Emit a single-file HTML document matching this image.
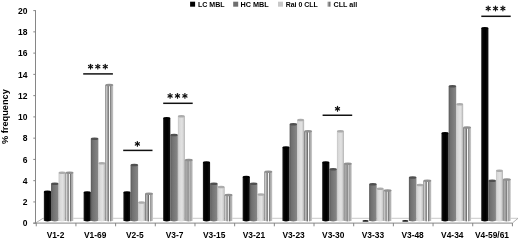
<!DOCTYPE html>
<html><head><meta charset="utf-8"><style>
html,body{margin:0;padding:0;background:#fff;width:520px;height:240px;overflow:hidden}
svg{display:block;will-change:transform}
text{font-family:"Liberation Sans",sans-serif;font-weight:bold;fill:#000}
body{-webkit-font-smoothing:antialiased}
</style></head><body>
<svg width="520" height="240" viewBox="0 0 520 240">
<defs>
<linearGradient id="gK" x1="0" x2="1" y1="0" y2="0">
 <stop offset="0" stop-color="#2a2a2a"/><stop offset="0.2" stop-color="#060606"/><stop offset="0.6" stop-color="#000"/><stop offset="1" stop-color="#141414"/>
</linearGradient>
<linearGradient id="gD" x1="0" x2="1" y1="0" y2="0">
 <stop offset="0" stop-color="#5a5a5a"/><stop offset="0.25" stop-color="#707070"/><stop offset="0.7" stop-color="#7e7e7e"/><stop offset="1" stop-color="#888888"/>
</linearGradient>
<linearGradient id="gL" x1="0" x2="1" y1="0" y2="0">
 <stop offset="0" stop-color="#c4c4c4"/><stop offset="0.2" stop-color="#d8d8d8"/><stop offset="0.6" stop-color="#e2e2e2"/><stop offset="0.85" stop-color="#cccccc"/><stop offset="1" stop-color="#a8a8a8"/>
</linearGradient>
<linearGradient id="gS" x1="0" x2="1" y1="0" y2="0">
 <stop offset="0" stop-color="#6e6e6e"/><stop offset="0.06" stop-color="#808080"/>
 <stop offset="0.12" stop-color="#d4d4d4"/><stop offset="0.2" stop-color="#a8a8a8"/>
 <stop offset="0.37" stop-color="#9a9a9a"/><stop offset="0.44" stop-color="#666"/>
 <stop offset="0.5" stop-color="#f6f6f6"/><stop offset="0.56" stop-color="#f6f6f6"/>
 <stop offset="0.62" stop-color="#707070"/><stop offset="0.7" stop-color="#a4a4a4"/>
 <stop offset="0.88" stop-color="#b4b4b4"/><stop offset="1" stop-color="#d8d8d8"/>
</linearGradient>
</defs>

<polygon points="35.5,223 43,218.3 518,218.3 512.4,223" fill="#fff" stroke="none"/>
<line x1="43" y1="218.3" x2="518" y2="218.3" stroke="#c4c4c4" stroke-width="0.9"/>
<line x1="35.5" y1="223" x2="43" y2="218.3" stroke="#a0a0a0" stroke-width="0.8"/>
<line x1="512.4" y1="223" x2="518" y2="218.3" stroke="#a0a0a0" stroke-width="0.8"/>
<line x1="35.5" y1="10.2" x2="35.5" y2="223.5" stroke="#868686" stroke-width="1"/>
<line x1="33.3" y1="223.20" x2="35.5" y2="223.20" stroke="#868686" stroke-width="1"/>
<text x="27.4" y="226.40" font-size="8.5" text-anchor="end">0</text>
<line x1="33.3" y1="201.94" x2="35.5" y2="201.94" stroke="#868686" stroke-width="1"/>
<text x="27.4" y="205.14" font-size="8.5" text-anchor="end">2</text>
<line x1="33.3" y1="180.68" x2="35.5" y2="180.68" stroke="#868686" stroke-width="1"/>
<text x="27.4" y="183.88" font-size="8.5" text-anchor="end">4</text>
<line x1="33.3" y1="159.42" x2="35.5" y2="159.42" stroke="#868686" stroke-width="1"/>
<text x="27.4" y="162.62" font-size="8.5" text-anchor="end">6</text>
<line x1="33.3" y1="138.16" x2="35.5" y2="138.16" stroke="#868686" stroke-width="1"/>
<text x="27.4" y="141.36" font-size="8.5" text-anchor="end">8</text>
<line x1="33.3" y1="116.90" x2="35.5" y2="116.90" stroke="#868686" stroke-width="1"/>
<text x="27.4" y="120.10" font-size="8.5" text-anchor="end">10</text>
<line x1="33.3" y1="95.64" x2="35.5" y2="95.64" stroke="#868686" stroke-width="1"/>
<text x="27.4" y="98.84" font-size="8.5" text-anchor="end">12</text>
<line x1="33.3" y1="74.38" x2="35.5" y2="74.38" stroke="#868686" stroke-width="1"/>
<text x="27.4" y="77.58" font-size="8.5" text-anchor="end">14</text>
<line x1="33.3" y1="53.12" x2="35.5" y2="53.12" stroke="#868686" stroke-width="1"/>
<text x="27.4" y="56.32" font-size="8.5" text-anchor="end">16</text>
<line x1="33.3" y1="31.86" x2="35.5" y2="31.86" stroke="#868686" stroke-width="1"/>
<text x="27.4" y="35.06" font-size="8.5" text-anchor="end">18</text>
<line x1="33.3" y1="10.60" x2="35.5" y2="10.60" stroke="#868686" stroke-width="1"/>
<text x="27.4" y="13.80" font-size="8.5" text-anchor="end">20</text>
<line x1="33.3" y1="223.1" x2="512.4" y2="223.1" stroke="#868686" stroke-width="1"/>
<line x1="36.25" y1="223" x2="36.25" y2="226.3" stroke="#868686" stroke-width="1"/>
<line x1="75.93" y1="223" x2="75.93" y2="226.3" stroke="#868686" stroke-width="1"/>
<line x1="115.61" y1="223" x2="115.61" y2="226.3" stroke="#868686" stroke-width="1"/>
<line x1="155.29" y1="223" x2="155.29" y2="226.3" stroke="#868686" stroke-width="1"/>
<line x1="194.97" y1="223" x2="194.97" y2="226.3" stroke="#868686" stroke-width="1"/>
<line x1="234.65" y1="223" x2="234.65" y2="226.3" stroke="#868686" stroke-width="1"/>
<line x1="274.33" y1="223" x2="274.33" y2="226.3" stroke="#868686" stroke-width="1"/>
<line x1="314.01" y1="223" x2="314.01" y2="226.3" stroke="#868686" stroke-width="1"/>
<line x1="353.69" y1="223" x2="353.69" y2="226.3" stroke="#868686" stroke-width="1"/>
<line x1="393.37" y1="223" x2="393.37" y2="226.3" stroke="#868686" stroke-width="1"/>
<line x1="433.05" y1="223" x2="433.05" y2="226.3" stroke="#868686" stroke-width="1"/>
<line x1="472.73" y1="223" x2="472.73" y2="226.3" stroke="#868686" stroke-width="1"/>
<line x1="512.41" y1="223" x2="512.41" y2="226.3" stroke="#868686" stroke-width="1"/>
<rect x="43.85" y="191.90" width="7.20" height="28.70" fill="url(#gK)"/>
<ellipse cx="47.45" cy="220.60" rx="3.60" ry="0.8" fill="url(#gK)"/>
<ellipse cx="47.45" cy="191.90" rx="3.60" ry="1.3" fill="#000"/>
<rect x="51.05" y="183.80" width="7.55" height="36.80" fill="url(#gD)"/>
<ellipse cx="54.83" cy="220.60" rx="3.77" ry="0.8" fill="url(#gD)"/>
<ellipse cx="54.83" cy="183.80" rx="3.77" ry="1.3" fill="#505050"/>
<rect x="58.60" y="172.80" width="6.95" height="47.80" fill="url(#gL)"/>
<ellipse cx="62.08" cy="220.60" rx="3.47" ry="0.8" fill="url(#gL)"/>
<ellipse cx="62.08" cy="172.80" rx="3.47" ry="1.3" fill="#acacac"/>
<rect x="65.55" y="172.80" width="7.95" height="47.80" fill="url(#gS)"/>
<ellipse cx="69.52" cy="220.60" rx="3.97" ry="0.8" fill="url(#gS)"/>
<ellipse cx="69.52" cy="172.80" rx="3.97" ry="1.3" fill="#909090"/>
<rect x="83.61" y="192.55" width="7.20" height="28.05" fill="url(#gK)"/>
<ellipse cx="87.21" cy="220.60" rx="3.60" ry="0.8" fill="url(#gK)"/>
<ellipse cx="87.21" cy="192.55" rx="3.60" ry="1.3" fill="#000"/>
<rect x="90.81" y="138.80" width="7.55" height="81.80" fill="url(#gD)"/>
<ellipse cx="94.59" cy="220.60" rx="3.77" ry="0.8" fill="url(#gD)"/>
<ellipse cx="94.59" cy="138.80" rx="3.77" ry="1.3" fill="#505050"/>
<rect x="98.36" y="163.30" width="6.95" height="57.30" fill="url(#gL)"/>
<ellipse cx="101.83" cy="220.60" rx="3.47" ry="0.8" fill="url(#gL)"/>
<ellipse cx="101.83" cy="163.30" rx="3.47" ry="1.3" fill="#acacac"/>
<rect x="105.31" y="85.05" width="7.95" height="135.55" fill="url(#gS)"/>
<ellipse cx="109.28" cy="220.60" rx="3.97" ry="0.8" fill="url(#gS)"/>
<ellipse cx="109.28" cy="85.05" rx="3.97" ry="1.3" fill="#909090"/>
<rect x="123.37" y="192.55" width="7.20" height="28.05" fill="url(#gK)"/>
<ellipse cx="126.97" cy="220.60" rx="3.60" ry="0.8" fill="url(#gK)"/>
<ellipse cx="126.97" cy="192.55" rx="3.60" ry="1.3" fill="#000"/>
<rect x="130.57" y="165.05" width="7.55" height="55.55" fill="url(#gD)"/>
<ellipse cx="134.34" cy="220.60" rx="3.77" ry="0.8" fill="url(#gD)"/>
<ellipse cx="134.34" cy="165.05" rx="3.77" ry="1.3" fill="#505050"/>
<rect x="138.12" y="202.55" width="6.95" height="18.05" fill="url(#gL)"/>
<ellipse cx="141.59" cy="220.60" rx="3.47" ry="0.8" fill="url(#gL)"/>
<ellipse cx="141.59" cy="202.55" rx="3.47" ry="1.3" fill="#acacac"/>
<rect x="145.07" y="193.80" width="7.95" height="26.80" fill="url(#gS)"/>
<ellipse cx="149.04" cy="220.60" rx="3.97" ry="0.8" fill="url(#gS)"/>
<ellipse cx="149.04" cy="193.80" rx="3.97" ry="1.3" fill="#909090"/>
<rect x="163.13" y="118.30" width="7.20" height="102.30" fill="url(#gK)"/>
<ellipse cx="166.73" cy="220.60" rx="3.60" ry="0.8" fill="url(#gK)"/>
<ellipse cx="166.73" cy="118.30" rx="3.60" ry="1.3" fill="#000"/>
<rect x="170.33" y="135.05" width="7.55" height="85.55" fill="url(#gD)"/>
<ellipse cx="174.10" cy="220.60" rx="3.77" ry="0.8" fill="url(#gD)"/>
<ellipse cx="174.10" cy="135.05" rx="3.77" ry="1.3" fill="#505050"/>
<rect x="177.88" y="116.30" width="6.95" height="104.30" fill="url(#gL)"/>
<ellipse cx="181.35" cy="220.60" rx="3.47" ry="0.8" fill="url(#gL)"/>
<ellipse cx="181.35" cy="116.30" rx="3.47" ry="1.3" fill="#acacac"/>
<rect x="184.83" y="160.05" width="7.95" height="60.55" fill="url(#gS)"/>
<ellipse cx="188.80" cy="220.60" rx="3.97" ry="0.8" fill="url(#gS)"/>
<ellipse cx="188.80" cy="160.05" rx="3.97" ry="1.3" fill="#909090"/>
<rect x="202.89" y="162.55" width="7.20" height="58.05" fill="url(#gK)"/>
<ellipse cx="206.49" cy="220.60" rx="3.60" ry="0.8" fill="url(#gK)"/>
<ellipse cx="206.49" cy="162.55" rx="3.60" ry="1.3" fill="#000"/>
<rect x="210.09" y="183.80" width="7.55" height="36.80" fill="url(#gD)"/>
<ellipse cx="213.86" cy="220.60" rx="3.77" ry="0.8" fill="url(#gD)"/>
<ellipse cx="213.86" cy="183.80" rx="3.77" ry="1.3" fill="#505050"/>
<rect x="217.64" y="187.05" width="6.95" height="33.55" fill="url(#gL)"/>
<ellipse cx="221.11" cy="220.60" rx="3.47" ry="0.8" fill="url(#gL)"/>
<ellipse cx="221.11" cy="187.05" rx="3.47" ry="1.3" fill="#acacac"/>
<rect x="224.59" y="195.05" width="7.95" height="25.55" fill="url(#gS)"/>
<ellipse cx="228.56" cy="220.60" rx="3.97" ry="0.8" fill="url(#gS)"/>
<ellipse cx="228.56" cy="195.05" rx="3.97" ry="1.3" fill="#909090"/>
<rect x="242.65" y="177.05" width="7.20" height="43.55" fill="url(#gK)"/>
<ellipse cx="246.25" cy="220.60" rx="3.60" ry="0.8" fill="url(#gK)"/>
<ellipse cx="246.25" cy="177.05" rx="3.60" ry="1.3" fill="#000"/>
<rect x="249.85" y="183.80" width="7.55" height="36.80" fill="url(#gD)"/>
<ellipse cx="253.62" cy="220.60" rx="3.77" ry="0.8" fill="url(#gD)"/>
<ellipse cx="253.62" cy="183.80" rx="3.77" ry="1.3" fill="#505050"/>
<rect x="257.40" y="194.55" width="6.95" height="26.05" fill="url(#gL)"/>
<ellipse cx="260.88" cy="220.60" rx="3.47" ry="0.8" fill="url(#gL)"/>
<ellipse cx="260.88" cy="194.55" rx="3.47" ry="1.3" fill="#acacac"/>
<rect x="264.35" y="171.80" width="7.95" height="48.80" fill="url(#gS)"/>
<ellipse cx="268.32" cy="220.60" rx="3.97" ry="0.8" fill="url(#gS)"/>
<ellipse cx="268.32" cy="171.80" rx="3.97" ry="1.3" fill="#909090"/>
<rect x="282.41" y="147.55" width="7.20" height="73.05" fill="url(#gK)"/>
<ellipse cx="286.01" cy="220.60" rx="3.60" ry="0.8" fill="url(#gK)"/>
<ellipse cx="286.01" cy="147.55" rx="3.60" ry="1.3" fill="#000"/>
<rect x="289.61" y="124.30" width="7.55" height="96.30" fill="url(#gD)"/>
<ellipse cx="293.38" cy="220.60" rx="3.77" ry="0.8" fill="url(#gD)"/>
<ellipse cx="293.38" cy="124.30" rx="3.77" ry="1.3" fill="#505050"/>
<rect x="297.16" y="120.05" width="6.95" height="100.55" fill="url(#gL)"/>
<ellipse cx="300.64" cy="220.60" rx="3.47" ry="0.8" fill="url(#gL)"/>
<ellipse cx="300.64" cy="120.05" rx="3.47" ry="1.3" fill="#acacac"/>
<rect x="304.11" y="131.30" width="7.95" height="89.30" fill="url(#gS)"/>
<ellipse cx="308.09" cy="220.60" rx="3.97" ry="0.8" fill="url(#gS)"/>
<ellipse cx="308.09" cy="131.30" rx="3.97" ry="1.3" fill="#909090"/>
<rect x="322.17" y="162.55" width="7.20" height="58.05" fill="url(#gK)"/>
<ellipse cx="325.77" cy="220.60" rx="3.60" ry="0.8" fill="url(#gK)"/>
<ellipse cx="325.77" cy="162.55" rx="3.60" ry="1.3" fill="#000"/>
<rect x="329.37" y="169.30" width="7.55" height="51.30" fill="url(#gD)"/>
<ellipse cx="333.14" cy="220.60" rx="3.77" ry="0.8" fill="url(#gD)"/>
<ellipse cx="333.14" cy="169.30" rx="3.77" ry="1.3" fill="#505050"/>
<rect x="336.92" y="131.30" width="6.95" height="89.30" fill="url(#gL)"/>
<ellipse cx="340.40" cy="220.60" rx="3.47" ry="0.8" fill="url(#gL)"/>
<ellipse cx="340.40" cy="131.30" rx="3.47" ry="1.3" fill="#acacac"/>
<rect x="343.87" y="163.80" width="7.95" height="56.80" fill="url(#gS)"/>
<ellipse cx="347.85" cy="220.60" rx="3.97" ry="0.8" fill="url(#gS)"/>
<ellipse cx="347.85" cy="163.80" rx="3.97" ry="1.3" fill="#909090"/>
<ellipse cx="365.53" cy="220.90" rx="3.20" ry="0.9" fill="#1a1a1a"/>
<rect x="369.13" y="184.30" width="7.55" height="36.30" fill="url(#gD)"/>
<ellipse cx="372.90" cy="220.60" rx="3.77" ry="0.8" fill="url(#gD)"/>
<ellipse cx="372.90" cy="184.30" rx="3.77" ry="1.3" fill="#505050"/>
<rect x="376.68" y="188.80" width="6.95" height="31.80" fill="url(#gL)"/>
<ellipse cx="380.16" cy="220.60" rx="3.47" ry="0.8" fill="url(#gL)"/>
<ellipse cx="380.16" cy="188.80" rx="3.47" ry="1.3" fill="#acacac"/>
<rect x="383.63" y="190.55" width="7.95" height="30.05" fill="url(#gS)"/>
<ellipse cx="387.61" cy="220.60" rx="3.97" ry="0.8" fill="url(#gS)"/>
<ellipse cx="387.61" cy="190.55" rx="3.97" ry="1.3" fill="#909090"/>
<ellipse cx="405.29" cy="220.90" rx="3.20" ry="0.9" fill="#1a1a1a"/>
<rect x="408.89" y="177.55" width="7.55" height="43.05" fill="url(#gD)"/>
<ellipse cx="412.66" cy="220.60" rx="3.77" ry="0.8" fill="url(#gD)"/>
<ellipse cx="412.66" cy="177.55" rx="3.77" ry="1.3" fill="#505050"/>
<rect x="416.44" y="185.05" width="6.95" height="35.55" fill="url(#gL)"/>
<ellipse cx="419.92" cy="220.60" rx="3.47" ry="0.8" fill="url(#gL)"/>
<ellipse cx="419.92" cy="185.05" rx="3.47" ry="1.3" fill="#acacac"/>
<rect x="423.39" y="180.80" width="7.95" height="39.80" fill="url(#gS)"/>
<ellipse cx="427.37" cy="220.60" rx="3.97" ry="0.8" fill="url(#gS)"/>
<ellipse cx="427.37" cy="180.80" rx="3.97" ry="1.3" fill="#909090"/>
<rect x="441.45" y="133.30" width="7.20" height="87.30" fill="url(#gK)"/>
<ellipse cx="445.05" cy="220.60" rx="3.60" ry="0.8" fill="url(#gK)"/>
<ellipse cx="445.05" cy="133.30" rx="3.60" ry="1.3" fill="#000"/>
<rect x="448.65" y="86.30" width="7.55" height="134.30" fill="url(#gD)"/>
<ellipse cx="452.42" cy="220.60" rx="3.77" ry="0.8" fill="url(#gD)"/>
<ellipse cx="452.42" cy="86.30" rx="3.77" ry="1.3" fill="#505050"/>
<rect x="456.20" y="104.30" width="6.95" height="116.30" fill="url(#gL)"/>
<ellipse cx="459.68" cy="220.60" rx="3.47" ry="0.8" fill="url(#gL)"/>
<ellipse cx="459.68" cy="104.30" rx="3.47" ry="1.3" fill="#acacac"/>
<rect x="463.15" y="127.55" width="7.95" height="93.05" fill="url(#gS)"/>
<ellipse cx="467.12" cy="220.60" rx="3.97" ry="0.8" fill="url(#gS)"/>
<ellipse cx="467.12" cy="127.55" rx="3.97" ry="1.3" fill="#909090"/>
<rect x="481.21" y="28.30" width="7.20" height="192.30" fill="url(#gK)"/>
<ellipse cx="484.81" cy="220.60" rx="3.60" ry="0.8" fill="url(#gK)"/>
<ellipse cx="484.81" cy="28.30" rx="3.60" ry="1.3" fill="#000"/>
<rect x="488.41" y="180.80" width="7.55" height="39.80" fill="url(#gD)"/>
<ellipse cx="492.18" cy="220.60" rx="3.77" ry="0.8" fill="url(#gD)"/>
<ellipse cx="492.18" cy="180.80" rx="3.77" ry="1.3" fill="#505050"/>
<rect x="495.96" y="170.80" width="6.95" height="49.80" fill="url(#gL)"/>
<ellipse cx="499.44" cy="220.60" rx="3.47" ry="0.8" fill="url(#gL)"/>
<ellipse cx="499.44" cy="170.80" rx="3.47" ry="1.3" fill="#acacac"/>
<rect x="502.91" y="179.55" width="7.95" height="41.05" fill="url(#gS)"/>
<ellipse cx="506.88" cy="220.60" rx="3.97" ry="0.8" fill="url(#gS)"/>
<ellipse cx="506.88" cy="179.55" rx="3.97" ry="1.3" fill="#909090"/>
<text x="55.49" y="238" font-size="8.4" text-anchor="middle">V1-2</text>
<text x="95.17" y="238" font-size="8.4" text-anchor="middle">V1-69</text>
<text x="134.85" y="238" font-size="8.4" text-anchor="middle">V2-5</text>
<text x="174.53" y="238" font-size="8.4" text-anchor="middle">V3-7</text>
<text x="214.21" y="238" font-size="8.4" text-anchor="middle">V3-15</text>
<text x="253.89" y="238" font-size="8.4" text-anchor="middle">V3-21</text>
<text x="293.57" y="238" font-size="8.4" text-anchor="middle">V3-23</text>
<text x="333.25" y="238" font-size="8.4" text-anchor="middle">V3-30</text>
<text x="372.93" y="238" font-size="8.4" text-anchor="middle">V3-33</text>
<text x="412.61" y="238" font-size="8.4" text-anchor="middle">V3-48</text>
<text x="452.29" y="238" font-size="8.4" text-anchor="middle">V4-34</text>
<text x="491.97" y="238" font-size="8.4" text-anchor="middle">V4-59/61</text>
<text transform="translate(8.4,144.0) rotate(-90)" font-size="9.2" textLength="54.8" lengthAdjust="spacingAndGlyphs">% frequency</text>
<rect x="190.1" y="1.7" width="5" height="5" fill="#000"/>
<text x="197.9" y="6.6" font-size="7.6" textLength="26.7" lengthAdjust="spacingAndGlyphs">LC MBL</text>
<rect x="233.2" y="1.7" width="5" height="5" fill="#6e6e6e"/>
<text x="240.5" y="6.6" font-size="7.6" textLength="28.2" lengthAdjust="spacingAndGlyphs">HC MBL</text>
<rect x="278" y="1.7" width="5" height="5" fill="#c8c8c8"/>
<text x="285.7" y="6.6" font-size="7.6" textLength="32.1" lengthAdjust="spacingAndGlyphs">Rai 0 CLL</text>
<rect x="327" y="1.7" width="4" height="5" fill="url(#gS)"/>
<text x="333.6" y="6.6" font-size="7.6" textLength="23.7" lengthAdjust="spacingAndGlyphs">CLL all</text>
<line x1="83.2" y1="73.9" x2="112.9" y2="73.9" stroke="#111" stroke-width="1.5"/>
<line x1="90.55" y1="64.25" x2="90.55" y2="68.95" stroke="#111" stroke-width="1.2" stroke-linecap="round"/><line x1="88.51" y1="65.42" x2="92.59" y2="67.77" stroke="#111" stroke-width="1.2" stroke-linecap="round"/><line x1="92.59" y1="65.42" x2="88.51" y2="67.77" stroke="#111" stroke-width="1.2" stroke-linecap="round"/>
<line x1="97.80" y1="64.25" x2="97.80" y2="68.95" stroke="#111" stroke-width="1.2" stroke-linecap="round"/><line x1="95.76" y1="65.42" x2="99.84" y2="67.77" stroke="#111" stroke-width="1.2" stroke-linecap="round"/><line x1="99.84" y1="65.42" x2="95.76" y2="67.77" stroke="#111" stroke-width="1.2" stroke-linecap="round"/>
<line x1="105.30" y1="64.25" x2="105.30" y2="68.95" stroke="#111" stroke-width="1.2" stroke-linecap="round"/><line x1="103.26" y1="65.42" x2="107.34" y2="67.77" stroke="#111" stroke-width="1.2" stroke-linecap="round"/><line x1="107.34" y1="65.42" x2="103.26" y2="67.77" stroke="#111" stroke-width="1.2" stroke-linecap="round"/>
<line x1="123.2" y1="150.4" x2="152.5" y2="150.4" stroke="#111" stroke-width="1.5"/>
<line x1="137.40" y1="141.55" x2="137.40" y2="146.25" stroke="#111" stroke-width="1.2" stroke-linecap="round"/><line x1="135.36" y1="142.72" x2="139.44" y2="145.08" stroke="#111" stroke-width="1.2" stroke-linecap="round"/><line x1="139.44" y1="142.72" x2="135.36" y2="145.08" stroke="#111" stroke-width="1.2" stroke-linecap="round"/>
<line x1="163.2" y1="103.3" x2="192.7" y2="103.3" stroke="#111" stroke-width="1.5"/>
<line x1="170.10" y1="93.55" x2="170.10" y2="98.25" stroke="#111" stroke-width="1.2" stroke-linecap="round"/><line x1="168.06" y1="94.73" x2="172.14" y2="97.08" stroke="#111" stroke-width="1.2" stroke-linecap="round"/><line x1="172.14" y1="94.73" x2="168.06" y2="97.08" stroke="#111" stroke-width="1.2" stroke-linecap="round"/>
<line x1="177.50" y1="93.55" x2="177.50" y2="98.25" stroke="#111" stroke-width="1.2" stroke-linecap="round"/><line x1="175.46" y1="94.73" x2="179.54" y2="97.08" stroke="#111" stroke-width="1.2" stroke-linecap="round"/><line x1="179.54" y1="94.73" x2="175.46" y2="97.08" stroke="#111" stroke-width="1.2" stroke-linecap="round"/>
<line x1="184.90" y1="93.55" x2="184.90" y2="98.25" stroke="#111" stroke-width="1.2" stroke-linecap="round"/><line x1="182.86" y1="94.73" x2="186.94" y2="97.08" stroke="#111" stroke-width="1.2" stroke-linecap="round"/><line x1="186.94" y1="94.73" x2="182.86" y2="97.08" stroke="#111" stroke-width="1.2" stroke-linecap="round"/>
<line x1="322.6" y1="115.25" x2="352.2" y2="115.25" stroke="#111" stroke-width="1.5"/>
<line x1="337.50" y1="106.45" x2="337.50" y2="111.15" stroke="#111" stroke-width="1.2" stroke-linecap="round"/><line x1="335.46" y1="107.62" x2="339.54" y2="109.97" stroke="#111" stroke-width="1.2" stroke-linecap="round"/><line x1="339.54" y1="107.62" x2="335.46" y2="109.97" stroke="#111" stroke-width="1.2" stroke-linecap="round"/>
<line x1="481.3" y1="16.3" x2="510.7" y2="16.3" stroke="#111" stroke-width="1.5"/>
<line x1="488.20" y1="6.15" x2="488.20" y2="10.85" stroke="#111" stroke-width="1.2" stroke-linecap="round"/><line x1="486.16" y1="7.33" x2="490.24" y2="9.68" stroke="#111" stroke-width="1.2" stroke-linecap="round"/><line x1="490.24" y1="7.33" x2="486.16" y2="9.68" stroke="#111" stroke-width="1.2" stroke-linecap="round"/>
<line x1="495.50" y1="6.15" x2="495.50" y2="10.85" stroke="#111" stroke-width="1.2" stroke-linecap="round"/><line x1="493.46" y1="7.33" x2="497.54" y2="9.68" stroke="#111" stroke-width="1.2" stroke-linecap="round"/><line x1="497.54" y1="7.33" x2="493.46" y2="9.68" stroke="#111" stroke-width="1.2" stroke-linecap="round"/>
<line x1="502.90" y1="6.15" x2="502.90" y2="10.85" stroke="#111" stroke-width="1.2" stroke-linecap="round"/><line x1="500.86" y1="7.33" x2="504.94" y2="9.68" stroke="#111" stroke-width="1.2" stroke-linecap="round"/><line x1="504.94" y1="7.33" x2="500.86" y2="9.68" stroke="#111" stroke-width="1.2" stroke-linecap="round"/>
</svg></body></html>
